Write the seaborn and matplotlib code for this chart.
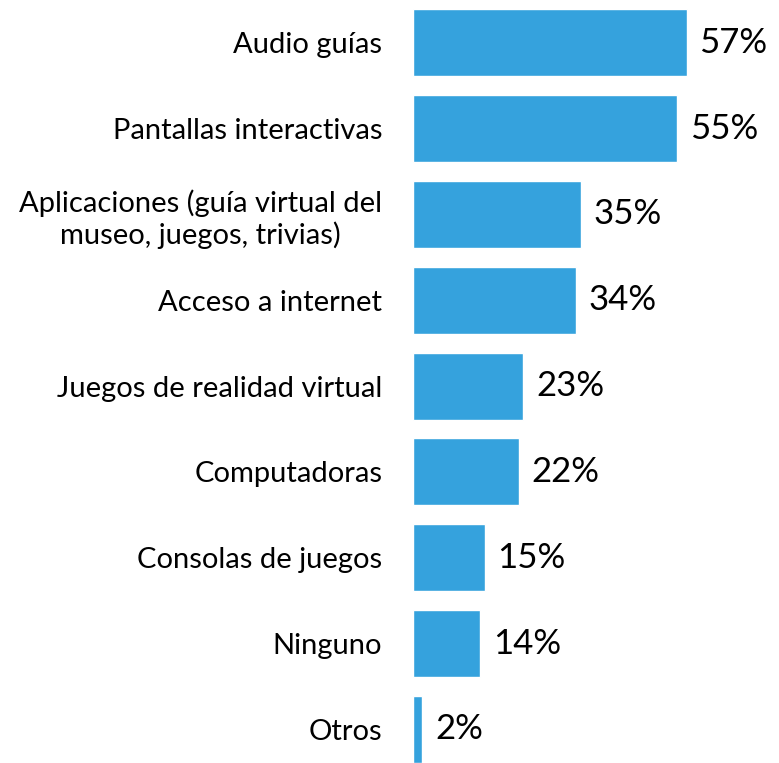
import seaborn as sns
import matplotlib.pyplot as plt
import pandas as pd

# data
categories = [
    "Audio guías",
    "Pantallas interactivas",
    "Aplicaciones (guía virtual del\nmuseo, juegos, trivias)",
    "Acceso a internet",
    "Juegos de realidad virtual",
    "Computadoras",
    "Consolas de juegos",
    "Ninguno",
    "Otros",
]
values = [57, 55, 35, 34, 23, 22, 15, 14, 2]
value_labels = [f"{v}%" for v in values]

df = pd.DataFrame({"category": categories, "value": values})

sns.set_style("white")
plt.rcParams['font.family'] = ['Lato', 'DejaVu Sans']
plt.rcParams['text.color'] = 'black'
plt.rcParams['ytick.color'] = 'black'

fig = plt.figure(figsize=(7.79, 7.63), dpi=100)
ax = fig.add_axes([0.530, -0.001, 0.432, 0.99])
sns.barplot(data=df, x='value', y='category', color='#35A2DD', saturation=1,
            width=0.78, ax=ax)
ax.set_xlim(0, 70)
ax.set_ylim(8.4, -0.4)
for s in ax.spines.values():
    s.set_visible(False)
ax.set_xticks([])
ax.set_xlabel('')
ax.set_ylabel('')
ax.tick_params(axis='y', length=0, pad=22, labelsize=21, labelcolor='black')
for lbl in ax.get_yticklabels():
    lbl.set_multialignment('center')
ax.bar_label(ax.containers[0], labels=value_labels, padding=9, fontsize=25,
             color='black')

fig.savefig('out.png', dpi=100)
